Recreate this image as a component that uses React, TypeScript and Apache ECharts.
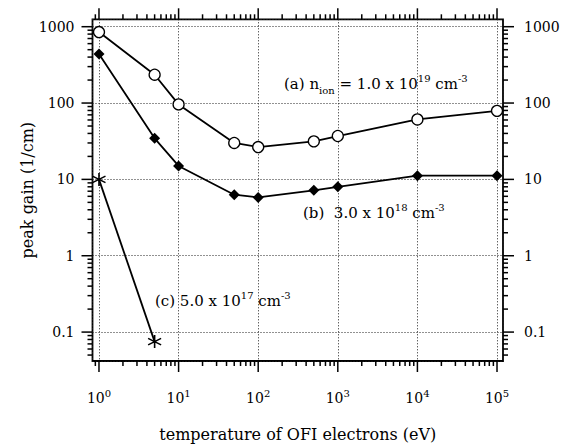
import React, { useEffect, useRef } from 'react';
import * as echarts from 'echarts';

// Data
const TEMPERATURES = [1, 5, 10, 50, 100, 500, 1000, 10000, 100000];
const GAIN_A = [850, 235, 96, 30, 26.5, 31.5, 37, 61, 79];
const GAIN_B = [440, 34.5, 15, 6.3, 5.8, 7.2, 8.0, 11.2, 11.2];
const TEMPERATURES_C = [1, 5];
const GAIN_C = [10, 0.075];

const X_LABELS = [1, 10, 100, 1000, 10000, 100000];
const Y_LABELS = [0.1, 1, 10, 100, 1000];

const X_MIN = 0.829;
const X_MAX = 118900;
const Y_MIN = 0.0418;
const Y_MAX = 1250;

const FONT = 'DejaVu Serif';

function logTicks(lo: number, hi: number): number[][] {
  const out: number[][] = [];
  for (let d = -3; d <= 6; d++) {
    for (let k = 1; k <= 9; k++) {
      const v = k * Math.pow(10, d);
      if (v >= lo * 0.9999 && v <= hi * 1.0001) out.push([v, k === 1 ? 1 : 0]);
    }
  }
  return out;
}

const X_TICKS = logTicks(X_MIN, X_MAX);
const Y_TICKS = logTicks(Y_MIN, Y_MAX);

const MAJOR = 11;
const MINOR = 5;

const ANNO_RICH = {
  m: { fontFamily: FONT, fontSize: 15, lineHeight: 22, color: '#000' },
  sup: { fontFamily: FONT, fontSize: 10, lineHeight: 12, verticalAlign: 'top', color: '#000' },
  sub: { fontFamily: FONT, fontSize: 10, lineHeight: 12, verticalAlign: 'bottom', color: '#000' },
};

export default function App() {
  const ref = useRef<HTMLDivElement>(null);
  useEffect(() => {
    if (!ref.current) return;
    const chart = echarts.init(ref.current, null, { renderer: 'svg' });
    const tickStyle = { stroke: '#000', lineWidth: 1.5 };
    const yLabelFmt = (v: number) => (v < 1 ? '0.1' : String(Math.round(v)));
    const option: any = {
      animation: false,
      backgroundColor: '#fff',
      grid: {
        left: 92.5,
        right: 63,
        top: 19.3,
        bottom: 85,
        show: true,
        borderColor: '#000',
        borderWidth: 1.8,
        backgroundColor: 'transparent',
      },
      xAxis: [
        {
          type: 'log',
          logBase: 10,
          min: X_MIN,
          max: X_MAX,
          position: 'bottom',
          name: 'temperature of OFI electrons (eV)',
          nameLocation: 'middle',
          nameGap: 65,
          nameMoveOverlap: false,
          nameTextStyle: { fontFamily: FONT, fontSize: 16, color: '#000' },
          axisLine: { show: false, lineStyle: { color: '#000' } },
          axisTick: { show: false },
          minorTick: { show: false },
          axisLabel: {
            customValues: X_LABELS,
            margin: 27,
            color: '#000',
            formatter: (v: number) => `{b|10}{s|${Math.round(Math.log10(v))}}`,
            rich: {
              b: { fontFamily: FONT, fontSize: 14, lineHeight: 20, color: '#000' },
              s: { fontFamily: FONT, fontSize: 10, lineHeight: 11, verticalAlign: 'top', color: '#000' },
            },
          },
          splitLine: { show: true, lineStyle: { color: '#222', type: [1, 2], width: 1 } },
        },
      ],
      yAxis: [
        {
          type: 'log',
          logBase: 10,
          min: Y_MIN,
          max: Y_MAX,
          position: 'left',
          name: 'peak gain (1/cm)',
          nameLocation: 'middle',
          nameGap: 57,
          nameMoveOverlap: false,
          nameTextStyle: { fontFamily: FONT, fontSize: 16, color: '#000' },
          axisLine: { show: false, lineStyle: { color: '#000' } },
          axisTick: { show: false },
          minorTick: { show: false },
          axisLabel: {
            customValues: Y_LABELS,
            margin: 18,
            formatter: yLabelFmt,
            fontFamily: FONT,
            fontSize: 14,
            color: '#000',
          },
          splitLine: { show: true, lineStyle: { color: '#222', type: [1, 2], width: 1 } },
        },
        {
          type: 'log',
          logBase: 10,
          min: Y_MIN,
          max: Y_MAX,
          position: 'right',
          axisLine: { show: false, lineStyle: { color: '#000' } },
          axisTick: { show: false },
          minorTick: { show: false },
          axisLabel: {
            customValues: Y_LABELS,
            margin: 21,
            formatter: yLabelFmt,
            fontFamily: FONT,
            fontSize: 14,
            color: '#000',
          },
          splitLine: { show: false },
        },
      ],
      series: [
        {
          type: 'custom',
          name: 'xticks',
          xAxisIndex: 0,
          yAxisIndex: 0,
          silent: true,
          clip: false,
          z: 5,
          encode: { x: 0, y: 1 },
          data: X_TICKS.map(([v, m]) => [v, 1, m]),
          renderItem: (params: any, api: any) => {
            const cs = params.coordSys;
            const x = api.coord([api.value(0), 1])[0];
            const len = api.value(2) ? MAJOR : MINOR;
            const b = cs.y + cs.height;
            const t = cs.y;
            return {
              type: 'group',
              children: [
                { type: 'line', shape: { x1: x, y1: b, x2: x, y2: b + len }, style: tickStyle },
                { type: 'line', shape: { x1: x, y1: t, x2: x, y2: t - len }, style: tickStyle },
              ],
            };
          },
        },
        {
          type: 'custom',
          name: 'yticks',
          xAxisIndex: 0,
          yAxisIndex: 0,
          silent: true,
          clip: false,
          z: 5,
          encode: { x: 0, y: 1 },
          data: Y_TICKS.map(([v, m]) => [1, v, m]),
          renderItem: (params: any, api: any) => {
            const cs = params.coordSys;
            const y = api.coord([1, api.value(1)])[1];
            const len = api.value(2) ? MAJOR : MINOR;
            const l = cs.x;
            const r = cs.x + cs.width;
            return {
              type: 'group',
              children: [
                { type: 'line', shape: { x1: l, y1: y, x2: l - len, y2: y }, style: tickStyle },
                { type: 'line', shape: { x1: r, y1: y, x2: r + len, y2: y }, style: tickStyle },
              ],
            };
          },
        },
        {
          type: 'line',
          name: '(a) 1.0e19',
          data: TEMPERATURES.map((t, i) => [t, GAIN_A[i]]),
          symbol: 'circle',
          symbolSize: 11,
          showAllSymbol: true,
          lineStyle: { color: '#000', width: 1.8 },
          itemStyle: { color: '#fff', borderColor: '#000', borderWidth: 1.3 },
          z: 3,
        },
        {
          type: 'line',
          name: '(b) 3.0e18',
          data: TEMPERATURES.map((t, i) => [t, GAIN_B[i]]),
          symbol: 'diamond',
          symbolSize: 11,
          showAllSymbol: true,
          lineStyle: { color: '#000', width: 1.8 },
          itemStyle: { color: '#000', borderColor: '#000', borderWidth: 0 },
          z: 3,
        },
        {
          type: 'line',
          name: '(c) 5.0e17',
          data: TEMPERATURES_C.map((t, i) => [t, GAIN_C[i]]),
          symbol: 'path://M0,-10L0,10M-8.66,-5L8.66,5M-8.66,5L8.66,-5',
          symbolSize: 13,
          showAllSymbol: true,
          lineStyle: { color: '#000', width: 1.8 },
          itemStyle: { color: 'none', borderColor: '#000', borderWidth: 1.6 },
          z: 3,
        },
      ],
      graphic: [
        {
          type: 'text',
          x: 284,
          y: 84,
          style: {
            text: '{m|(a) n}{sub|ion}{m| = 1.0 x 10}{sup|19}{m| cm}{sup|-3}',
            rich: ANNO_RICH,
            verticalAlign: 'middle',
          },
        },
        {
          type: 'text',
          x: 303,
          y: 213,
          style: {
            text: '{m|(b)  3.0 x 10}{sup|18}{m| cm}{sup|-3}',
            rich: ANNO_RICH,
            verticalAlign: 'middle',
          },
        },
        {
          type: 'text',
          x: 155,
          y: 301,
          style: {
            text: '{m|(c) 5.0 x 10}{sup|17}{m| cm}{sup|-3}',
            rich: ANNO_RICH,
            verticalAlign: 'middle',
          },
        },
      ],
    };
    chart.setOption(option);
    return () => chart.dispose();
  }, []);
  return (
    <div
      ref={ref}
      style={{ position: 'absolute', left: 0, top: 0, width: 566, height: 447, background: '#fff' }}
    />
  );
}
